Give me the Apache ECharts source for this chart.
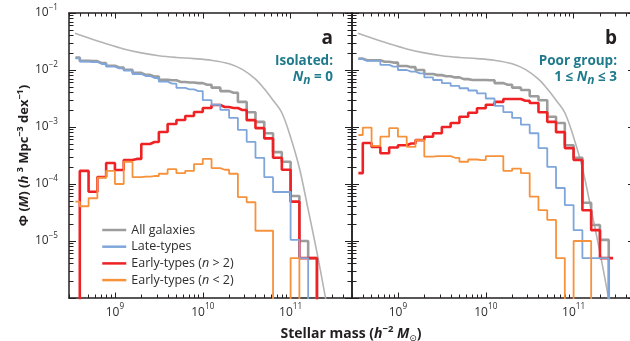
<!DOCTYPE html>
<html>
<head>
<meta charset="utf-8">
<script src="https://cdn.jsdelivr.net/npm/echarts@6.0.0/dist/echarts.min.js"></script>
<style>
html,body{margin:0;padding:0;background:#ffffff;}
#chart{width:630px;height:341px;}
</style>
</head>
<body>
<div id="chart"></div>
<script>
// ---------------- data (log10 values) ----------------
// bin centres, log10 stellar mass (h^-2 Msun)
const binCenters = [8.55,8.65,8.75,8.85,8.95,9.05,9.15,9.25,9.35,9.45,9.55,9.65,9.75,9.85,9.95,10.05,10.15,10.25,10.35,10.45,10.55,10.65,10.75,10.85,10.95,11.05,11.15,11.25,11.35,11.45];

// panel a: isolated (log10 Phi; null = empty bin)
const isoAll     = [-1.78,-1.84,-1.845,-1.88,-1.925,-1.955,-1.995,-2.05,-2.085,-2.115,-2.17,-2.18,-2.21,-2.22,-2.23,-2.26,-2.31,-2.37,-2.40,-2.56,-2.74,-2.91,-3.11,-3.44,-3.61,-4.21,-5.0,-5.30,null,null];
const isoLate    = [-1.795,-1.854,-1.86,-1.895,-1.94,-1.97,-2.01,-2.07,-2.105,-2.14,-2.205,-2.24,-2.315,-2.34,-2.37,-2.53,-2.61,-2.70,-2.84,-3.05,-3.26,-3.54,-3.88,-4.14,-4.14,-4.98,-5.30,null,null,null];
const isoEarlyHi = [null,-3.77,-4.135,-3.877,-3.632,-3.754,-3.579,-3.56,-3.298,-3.263,-3.088,-2.947,-2.877,-2.807,-2.737,-2.667,-2.614,-2.649,-2.667,-2.702,-2.88,-3.02,-3.2,-3.54,-3.75,-4.31,-5.30,-5.30,null,null];
const isoEarlyLo = [-4.31,-4.39,-4.25,-3.89,-3.77,-4.0,-3.61,-3.88,-3.87,-3.86,-3.82,-3.74,-3.81,-3.77,-3.65,-3.56,-3.72,-3.75,-3.82,-4.23,-4.32,-4.82,-4.82,null,null,-5.30,null,null,null,null];

// panel b: poor group
const poorAll     = [-1.80,-1.83,-1.83,-1.854,-1.87,-1.93,-1.95,-2.0,-2.07,-2.09,-2.11,-2.13,-2.16,-2.175,-2.175,-2.18,-2.23,-2.26,-2.31,-2.35,-2.46,-2.53,-2.82,-2.93,-3.32,-3.54,-4.33,-4.72,-4.98,null];
const poorLate    = [-1.81,-1.84,-1.84,-1.91,-1.94,-2.0,-2.03,-2.06,-2.13,-2.175,-2.23,-2.28,-2.32,-2.36,-2.41,-2.50,-2.63,-2.74,-2.84,-2.96,-3.11,-3.37,-3.70,-4.07,-4.37,-4.81,-5.30,-5.30,-5.30,null];
const poorEarlyHi = [-3.81,-3.28,-3.35,-3.46,-3.36,-3.32,-3.29,-3.23,-3.17,-3.11,-3.0,-2.93,-2.82,-2.75,-2.67,-2.61,-2.56,-2.51,-2.51,-2.54,-2.58,-2.74,-2.91,-3.09,-3.37,-3.58,-4.46,-4.81,-5.30,-5.30];
const poorEarlyLo = [-3.14,-3.01,-3.33,-3.17,-3.02,-3.17,-3.35,-3.23,-3.52,-3.51,-3.51,-3.54,-3.61,-3.57,-3.58,-3.51,-3.51,-3.77,-3.73,-3.81,-4.22,-4.46,-4.63,-5.30,null,-5.0,-5.0,null,null,null];

// smooth global curve (same in both panels)
const curveLogM   = [8.545,8.7,8.9,9.1,9.3,9.5,9.7,9.9,10.1,10.3,10.45,10.6,10.7,10.8,10.9,11.0,11.1,11.2,11.3,11.4];
const curveLogPhi = [-1.357,-1.44,-1.54,-1.63,-1.70,-1.75,-1.78,-1.80,-1.83,-1.89,-1.99,-2.16,-2.33,-2.53,-2.75,-3.18,-3.72,-4.45,-5.2,-6.02];

// tick labels (exponents)
const xLabelExp = [9, 10, 11];
const yLabelExp = [-1, -2, -3, -4, -5];

const seriesNames = ['All galaxies', 'Late-types', 'Early-types (n > 2)', 'Early-types (n < 2)'];
const panelLetters = ['a', 'b'];
const panelTitles = ['Isolated:', 'Poor group:'];

// ---------------- layout / style ----------------
const FONT = '"Open Sans", "DejaVu Sans", sans-serif';
const INK = '#231f20';
const LABEL = '#2e2e2e';
const TEAL = '#1f7a8c';
const X_MIN = Math.log10(3e8), X_MAX = Math.log10(5e11);
const Y_MIN = -6, Y_MAX = -1;
const EMPTY = Y_MIN - 2; // empty bins drawn below the frame (clipped)

const xMajorTicks = [9, 10, 11];
const xMinorTicks = [];
for (let n = 8; n <= 11; n++) for (let k = 2; k <= 9; k++) {
  const v = n + Math.log10(k);
  if (v >= X_MIN - 1e-9 && v <= X_MAX + 1e-9) xMinorTicks.push(v);
}
const yMajorTicks = [-6, -5, -4, -3, -2, -1];
const yMinorTicks = [];
for (let n = -6; n <= -2; n++) for (let k = 2; k <= 9; k++) yMinorTicks.push(n + Math.log10(k));

const COLORS = {all: '#9c9c9c', late: '#7fa6da', hi: '#ee2224', lo: '#f7923c', curve: '#b4b4b4'};

function pts(xs, ys) { return xs.map((x, i) => [x, ys[i] == null ? EMPTY : ys[i]]); }

const supRich = (size, raise) => ({
  b: {fontFamily: FONT, fontSize: size, color: LABEL},
  s: {fontFamily: FONT, fontSize: size * 0.68, color: LABEL, padding: [0, 0, raise, 0]}
});

function makeX(g, position, major, labels) {
  return {
    type: 'value', gridIndex: g, position, min: X_MIN, max: X_MAX,
    axisLine: {show: major, lineStyle: {color: INK, width: 1.5}},
    axisTick: {show: true, inside: true, length: major ? 5.5 : 3.5,
      customValues: major ? xMajorTicks : xMinorTicks, lineStyle: {color: INK, width: 1}},
    axisLabel: labels ? {show: true, customValues: xLabelExp, margin: 5,
      formatter: v => `{b|10}{s|${Math.round(v)}}`, rich: supRich(12, 12)} : {show: false},
    splitLine: {show: false}
  };
}
function makeY(g, position, major, labels) {
  const ax = {
    type: 'value', gridIndex: g, position, min: Y_MIN, max: Y_MAX,
    axisLine: {show: major, lineStyle: {color: INK, width: 1.5}},
    axisTick: {show: true, inside: true, length: major ? 7 : 4.5,
      customValues: major ? yMajorTicks : yMinorTicks, lineStyle: {color: INK, width: 1}},
    axisLabel: labels ? {show: true, customValues: yLabelExp, margin: 11,
      formatter: v => `{b|10}{s|\u2212${Math.abs(Math.round(v))}}`, rich: supRich(12, 11)} : {show: false},
    splitLine: {show: false}
  };
  if (labels) {
    ax.name = '{b|\u03A6 (}{bi|M}{b|) (}{bi|h}{b| }{s|3}{b| Mpc}{s|\u22123}{b| dex}{s|\u22121}{b|)}';
    ax.nameLocation = 'middle';
    ax.nameRotate = 90;
    ax.nameGap = 29;
    ax.nameTextStyle = {rich: {
      b: {fontFamily: FONT, fontWeight: 'bold', fontSize: 13, color: INK},
      bi: {fontFamily: FONT, fontWeight: 'bold', fontStyle: 'italic', fontSize: 13, color: INK},
      s: {fontFamily: FONT, fontWeight: 'bold', fontSize: 9, color: INK, padding: [0, 0, 9, 0]}
    }};
  }
  return ax;
}

const panelLefts = [69, 352];
const grids = [], xAxes = [], yAxes = [];
panelLefts.forEach((left, p) => {
  ['major', 'minor'].forEach(kind => {
    const g = grids.length;
    const major = kind === 'major';
    grids.push({left, top: 13, width: 283, height: 285, outerBoundsMode: 'none', containLabel: false});
    xAxes.push(makeX(g, 'bottom', major, major));
    xAxes.push(makeX(g, 'top', major, false));
    yAxes.push(makeY(g, 'left', major, major && p === 0));
    yAxes.push(makeY(g, 'right', major, false));
  });
});

const panelData = [
  [isoAll, isoLate, isoEarlyHi, isoEarlyLo],
  [poorAll, poorLate, poorEarlyHi, poorEarlyLo]
];
const series = [];
panelData.forEach((sets, p) => {
  const axisIdx = 4 * p; // major grid of panel p -> bottom x / left y
  const base = {type: 'line', xAxisIndex: axisIdx, yAxisIndex: axisIdx, symbol: 'none',
    silent: true, clip: true, animation: false};
  series.push(Object.assign({}, base, {name: 'curve', smooth: 0.35, data: pts(curveLogM, curveLogPhi),
    lineStyle: {color: COLORS.curve, width: 1.6}, itemStyle: {color: COLORS.curve}}));
  const order = [[0, COLORS.all, 2.6], [2, COLORS.hi, 2.6], [1, COLORS.late, 1.8], [3, COLORS.lo, 1.8]];
  order.forEach(([i, color, w]) => {
    series.push(Object.assign({}, base, {name: seriesNames[i], step: 'middle', data: pts(binCenters, sets[i]),
      lineStyle: {color, width: w}, itemStyle: {color}}));
  });
});

const richPanel = {
  h: {fontFamily: FONT, fontWeight: 'bold', fontSize: 13.5, fill: TEAL, color: TEAL},
  hi: {fontFamily: FONT, fontWeight: 'bold', fontStyle: 'italic', fontSize: 14, fill: TEAL, color: TEAL},
  sub: {fontFamily: FONT, fontWeight: 'bold', fontStyle: 'italic', fontSize: 12, fill: TEAL, color: TEAL, padding: [8, 0, 0, 0]}
};
function label(x, y, text, rich, font, fill) {
  return {type: 'text', x, y, silent: true, style: {text, rich, font, fill,
    align: 'right', textAlign: 'right', verticalAlign: 'middle', textVerticalAlign: 'middle'}};
}
const rightEdges = [333, 617];
const graphic = [];
rightEdges.forEach((rx, p) => {
  graphic.push(label(rx, 39, panelLetters[p], null, `bold 19px ${FONT}`, INK));
  graphic.push(label(rx, 61, `{h|${panelTitles[p]}}`, richPanel, `bold 13.5px ${FONT}`, TEAL));
});
graphic.push(label(333, 77, '{hi|N}{sub|n}{h| = 0}', richPanel, `bold 14px ${FONT}`, TEAL));
graphic.push(label(617, 77, '{h|1 \u2264 }{hi|N}{sub|n}{h| \u2264 3}', richPanel, `bold 14px ${FONT}`, TEAL));
graphic.push({type: 'text', x: 351, y: 334, silent: true, style: {
  text: '{b|Stellar mass (}{bi|h}{s|\u22122}{bi| M}{d|\u2299}{b|)}',
  align: 'center', textAlign: 'center', verticalAlign: 'middle', textVerticalAlign: 'middle',
  rich: {
    b: {fontFamily: FONT, fontWeight: 'bold', fontSize: 14, fill: INK, color: INK},
    bi: {fontFamily: FONT, fontWeight: 'bold', fontStyle: 'italic', fontSize: 14, fill: INK, color: INK},
    s: {fontFamily: FONT, fontWeight: 'bold', fontSize: 9.5, fill: INK, color: INK, padding: [0, 0, 9, 0]},
    d: {fontFamily: FONT, fontSize: 9, fill: INK, color: INK, padding: [8, 0, 0, 0]}
  }}});

const chart = echarts.init(document.getElementById('chart'), null, {renderer: 'canvas'});
chart.setOption({
  animation: false,
  backgroundColor: '#ffffff',
  grid: grids,
  xAxis: xAxes,
  yAxis: yAxes,
  legend: {
    data: seriesNames, orient: 'vertical', left: 96, top: 218,
    itemWidth: 24, itemHeight: 14, itemGap: 2.7, selectedMode: false,
    itemStyle: {opacity: 0}, lineStyle: {width: 2.5},
    formatter: name => {
      const m = name.match(/^(.*\()n(.*)$/);
      return m ? `{t|${m[1]}}{i|n}{t|${m[2]}}` : `{t|${name}}`;
    },
    textStyle: {fontFamily: FONT, fontSize: 12.5, color: LABEL, lineHeight: 14, rich: {
      t: {fontFamily: FONT, fontSize: 12.5, color: LABEL, lineHeight: 14},
      i: {fontFamily: FONT, fontSize: 12.5, fontStyle: 'italic', color: LABEL, lineHeight: 14}
    }}
  },
  graphic,
  series
});
</script>
</body>
</html>
